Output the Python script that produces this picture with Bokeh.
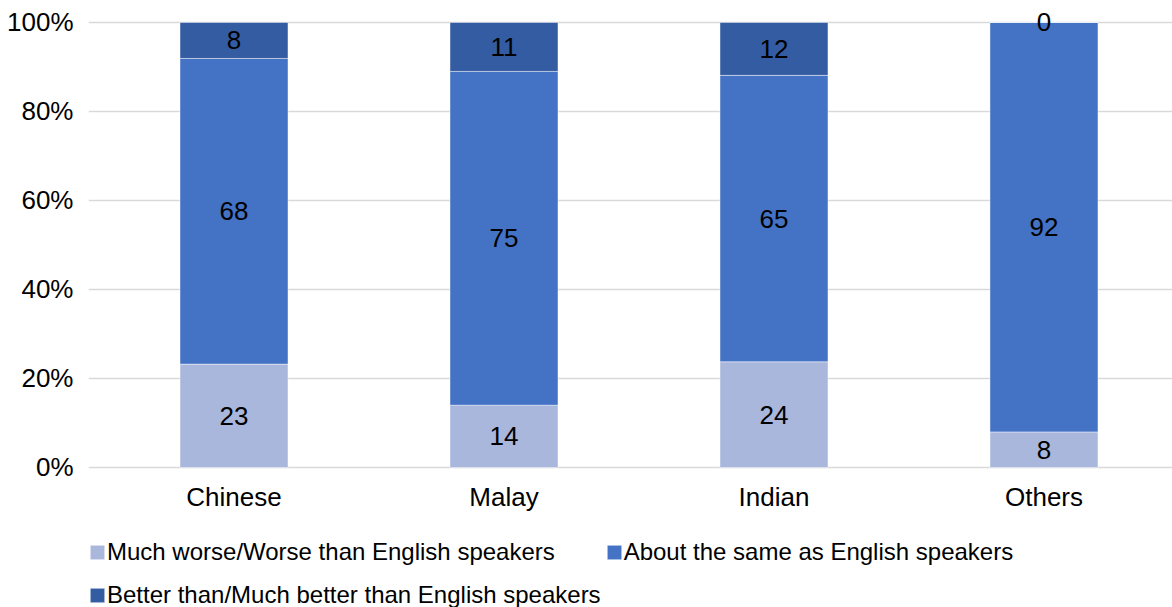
from bokeh.plotting import figure
from bokeh.models import (ColumnDataSource, Range1d, FixedTicker, Legend, LegendItem,
                          PrintfTickFormatter)
from bokeh.core.properties import value
from bokeh.embed import file_html
from bokeh.resources import INLINE

categories = ["Chinese", "Malay", "Indian", "Others"]
worse = [23, 14, 24, 8]
same = [68, 75, 65, 92]
better = [8, 11, 12, 0]
series_names = ["Much worse/Worse than English speakers",
                "About the same as English speakers",
                "Better than/Much better than English speakers"]
colors = ["#A9B7DD", "#4472C4", "#345CA2"]
y_ticks = [0, 20, 40, 60, 80, 100]

FONT = "Liberation Sans"

x = list(range(len(categories)))
totals = [a + b + c for a, b, c in zip(worse, same, better)]
w_n = [a / t * 100 for a, t in zip(worse, totals)]
s_n = [a / t * 100 for a, t in zip(same, totals)]
b_n = [a / t * 100 for a, t in zip(better, totals)]

src = ColumnDataSource(dict(x=x, worse=w_n, same=s_n, better=b_n))

# frame covers the whole height; the value axis occupies 22..467 px
p = figure(width=1172, height=607, output_backend="svg", toolbar_location=None,
           x_range=Range1d(-0.5389, 3.476), y_range=Range1d(-31.46, 104.94),
           min_border_left=88, min_border_right=0, min_border_top=0,
           min_border_bottom=0)

renderers = p.vbar_stack(["worse", "same", "better"], x="x", width=0.4, color=colors,
                         line_color="white", line_width=0.75, line_alpha=0.6, source=src)

# labels
lx, ly, lt = [], [], []
for i in x:
    bottom = 0
    for raw, norm in ((worse[i], w_n[i]), (same[i], s_n[i]), (better[i], b_n[i])):
        lx.append(i)
        ly.append(bottom + norm / 2)
        lt.append(str(raw))
        bottom += norm
lsrc = ColumnDataSource(dict(x=lx, y=ly, t=lt))
p.text(x="x", y="y", text="t", source=lsrc, text_align="center", text_baseline="middle",
       text_font=value(FONT), text_font_size=value("26px"), text_color="#000000")

p.outline_line_color = None
p.xgrid.grid_line_color = None
p.ygrid.grid_line_color = "#D9D9D9"
p.ygrid.grid_line_width = 1.5
p.ygrid.ticker = FixedTicker(ticks=y_ticks)

p.yaxis.ticker = FixedTicker(ticks=y_ticks)
p.yaxis.formatter = PrintfTickFormatter(format="%d%%")
p.xaxis.ticker = FixedTicker(ticks=x)
p.xaxis.major_label_overrides = {i: c for i, c in zip(x, categories)}
p.xaxis.fixed_location = 0
for ax in (p.xaxis, p.yaxis):
    ax.axis_line_color = None
    ax.major_tick_line_color = None
    ax.minor_tick_line_color = None
    ax.major_tick_out = 0
    ax.major_tick_in = 0
    ax.minor_tick_out = 0
    ax.minor_tick_in = 0
    ax.major_label_text_font = FONT
    ax.major_label_text_font_size = "26px"
    ax.major_label_text_color = "#000000"
p.yaxis.major_label_standoff = 15
p.xaxis.major_label_standoff = 15

legend = Legend(items=[LegendItem(label=n, renderers=[r]) for n, r in zip(series_names, renderers)],
                location=(0, -7.5), orientation="horizontal", ncols=2,
                glyph_width=18, glyph_height=18, label_standoff=1, label_height=39,
                label_text_font=FONT, label_text_font_size="24px", label_text_color="#000000",
                padding=0, margin=0, spacing=4, background_fill_alpha=0,
                border_line_color=None)
p.add_layout(legend, "center")

open("out.html", "w").write(file_html(p, INLINE))
